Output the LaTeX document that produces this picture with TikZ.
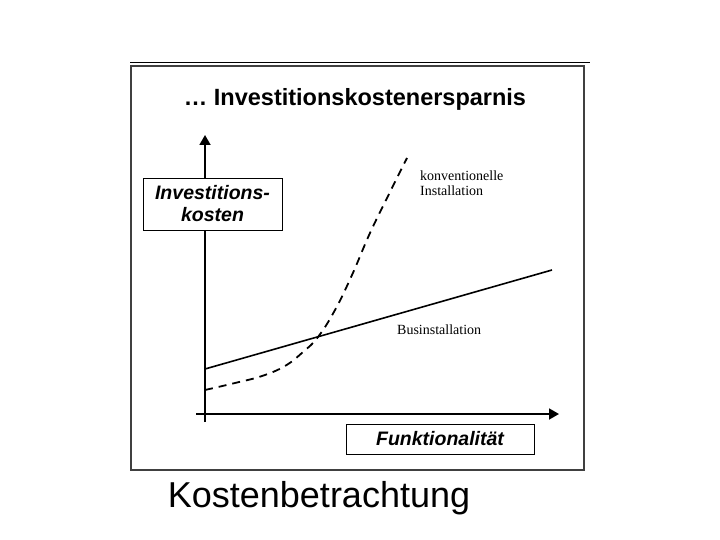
\documentclass[tikz,border=0pt]{standalone}
\usepackage{fontspec}
\setmainfont{Liberation Serif}
\setsansfont{Liberation Sans}
\usetikzlibrary{arrows.meta}
\begin{document}
\begin{tikzpicture}[x=1pt,y=-1pt,
  lbl/.style={draw, line width=0.8pt, fill=white, font=\sffamily\bfseries\itshape\fontsize{19.5}{22}\selectfont, inner sep=0pt},
  axis/.style={line width=1.8pt, -{Triangle[length=10pt,width=11pt]}},
  note/.style={font=\fontsize{14}{15.5}\selectfont, align=left, anchor=west, inner sep=0pt}]
\useasboundingbox (0,0) rectangle (720,540);
\draw[line width=0.8pt] (130,62) -- (590,62);
\draw[line width=1.2pt, black!75] (131,66) rectangle (584,470);
\node[font=\sffamily\bfseries\fontsize{23.5}{26}\selectfont] (title) at (355,99) {\dots\ Investitionskostenersparnis};
\coordinate (o) at (205,414);
\coordinate (ytop) at (205,135);
\coordinate (xl) at (196,414);
\coordinate (xr) at (559,414);
\coordinate (yb) at (205,422);
\draw[axis] (yb) -- (ytop);
\draw[axis] (xl) -- (xr);
\node[lbl, minimum width=139pt, minimum height=52pt, align=center] (yl) at (212.5,204) {Investitions-\\kosten};
\node[lbl, minimum width=188pt, minimum height=30pt] (xlab) at (440,439) {Funktionalität};
\coordinate (s1) at (205,369);
\coordinate (s2) at (552,270);
\draw[line width=1.6pt] (s1) -- (s2);
\draw[line width=1.8pt, dash pattern=on 8pt off 6pt] plot[smooth, tension=0.7] coordinates {(205,390) (235,383) (262,376) (285,366) (303,352) (318,337) (335,310) (352,275) (370,233) (390,192) (407,158)};
\node[note] (kon) at (420,183) {konventionelle\\Installation};
\node[note] (bus) at (397,330) {Businstallation};
\node[font=\sffamily\fontsize{36}{40}\selectfont] (kb) at (319,498) {Kostenbetrachtung};
\end{tikzpicture}
\end{document}
